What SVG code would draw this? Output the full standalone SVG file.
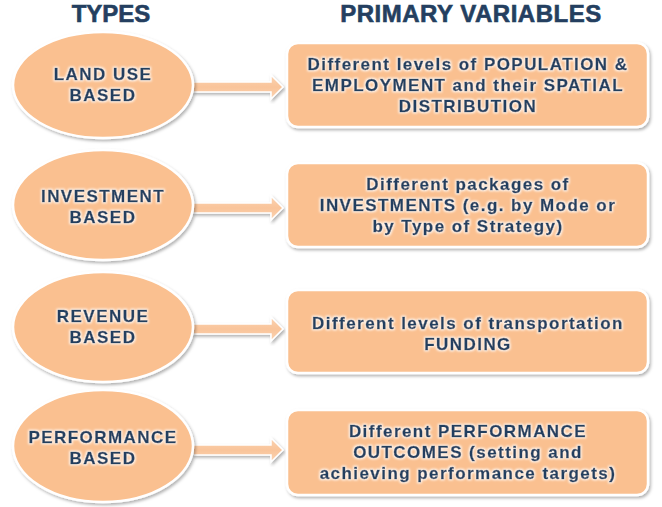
<svg xmlns="http://www.w3.org/2000/svg" width="662" height="507" viewBox="0 0 662 507">
<defs>
<filter id="sh" x="-10%" y="-10%" width="125%" height="130%">
<feDropShadow dx="1.5" dy="2" stdDeviation="1.8" flood-color="#000" flood-opacity="0.3"/>
</filter>
<filter id="glow" x="-5%" y="-20%" width="110%" height="140%">
<feMorphology in="SourceAlpha" operator="dilate" radius="0.8" result="d"/>
<feGaussianBlur in="d" stdDeviation="0.8" result="b"/>
<feFlood flood-color="#fff" flood-opacity="0.9"/>
<feComposite in2="b" operator="in" result="w"/>
<feMerge><feMergeNode in="w"/><feMergeNode in="SourceGraphic"/></feMerge>
</filter>
<linearGradient id="ag" x1="0" y1="0" x2="0" y2="1">
<stop offset="0" stop-color="#FBD3B2"/>
<stop offset="0.5" stop-color="#F9C49A"/>
<stop offset="1" stop-color="#FBD3B2"/>
</linearGradient>
</defs>
<style>
.sh{fill:#FAC090;stroke:#fff;stroke-width:2.5;filter:url(#sh)}
.t{font-family:"Liberation Sans",Arial,sans-serif;font-weight:bold;font-size:17px;fill:#243F60;stroke:#243F60;stroke-width:0.45;text-anchor:middle;letter-spacing:1.45px;filter:url(#glow)}
.h{font-family:"Liberation Sans",Arial,sans-serif;font-weight:bold;font-size:24px;fill:#243F60;stroke:#243F60;stroke-width:0.6;text-anchor:middle}
.ar{fill:url(#ag);stroke:#fff;stroke-width:1.5;filter:url(#sh)}
</style>
<rect width="662" height="507" fill="#fff"/>
<g id="headers">
<text class="h" x="111" y="22">TYPES</text>
<text class="h" x="471" y="22" letter-spacing="0.5">PRIMARY VARIABLES</text>
</g>
<g id="connectors">
<polygon class="ar" points="193,82 271,82 271,75 283,87 271,99 271,92 193,92"/>
<polygon class="ar" points="193,203 271,203 271,196 283,208 271,220 271,213 193,213"/>
<polygon class="ar" points="193,324 271,324 271,317 283,329 271,341 271,334 193,334"/>
<polygon class="ar" points="193,445 271,445 271,438 283,450 271,462 271,455 193,455"/>
</g>
<g id="type-landuse">
<ellipse class="sh" cx="103" cy="85" rx="90" ry="53"/>
<text class="t" x="103" y="80">LAND USE</text>
<text class="t" x="103" y="101">BASED</text>
</g>
<g id="type-investment">
<ellipse class="sh" cx="103" cy="205" rx="90" ry="55"/>
<text class="t" x="103" y="202">INVESTMENT</text>
<text class="t" x="103" y="223">BASED</text>
</g>
<g id="type-revenue">
<ellipse class="sh" cx="103" cy="327" rx="90" ry="55"/>
<text class="t" x="103" y="322">REVENUE</text>
<text class="t" x="103" y="343">BASED</text>
</g>
<g id="type-performance">
<ellipse class="sh" cx="103" cy="446" rx="90" ry="56"/>
<text class="t" x="103" y="443">PERFORMANCE</text>
<text class="t" x="103" y="464">BASED</text>
</g>
<g id="var-landuse">
<rect class="sh" x="287" y="43" width="361" height="84" rx="11"/>
<text class="t" x="468" y="70">Different levels of POPULATION &amp;</text>
<text class="t" x="468" y="91">EMPLOYMENT and their SPATIAL</text>
<text class="t" x="468" y="112">DISTRIBUTION</text>
</g>
<g id="var-investment">
<rect class="sh" x="287" y="163" width="361" height="84" rx="11"/>
<text class="t" x="468" y="190">Different packages of</text>
<text class="t" x="468" y="211">INVESTMENTS (e.g. by Mode or</text>
<text class="t" x="468" y="232">by Type of Strategy)</text>
</g>
<g id="var-revenue">
<rect class="sh" x="287" y="290" width="361" height="83" rx="11"/>
<text class="t" x="468" y="329">Different levels of transportation</text>
<text class="t" x="468" y="350">FUNDING</text>
</g>
<g id="var-performance">
<rect class="sh" x="287" y="410" width="361" height="85" rx="11"/>
<text class="t" x="468" y="437">Different PERFORMANCE</text>
<text class="t" x="468" y="458">OUTCOMES (setting and</text>
<text class="t" x="468" y="479">achieving performance targets)</text>
</g>
</svg>
